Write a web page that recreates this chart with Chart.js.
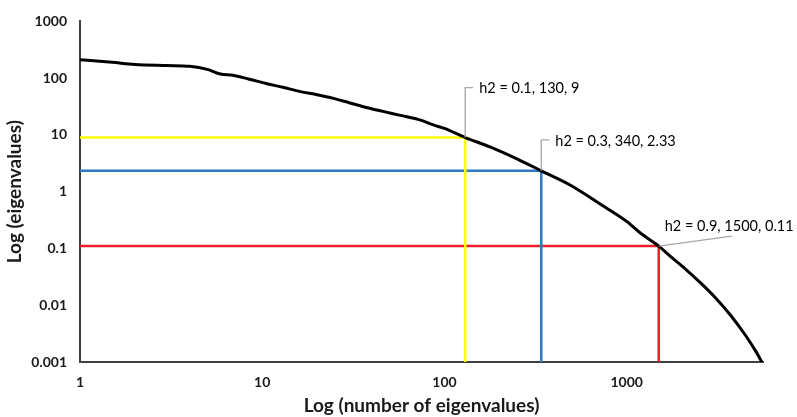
<!DOCTYPE html>
<html>
<head>
<meta charset="utf-8">
<script src="https://cdn.jsdelivr.net/npm/chart.js@4"></script>
<style>
  html, body { margin: 0; padding: 0; background: #fff; }
  #wrap { width: 797px; height: 417px; }
</style>
</head>
<body>
<div id="wrap"><canvas id="chart"></canvas></div>
<script>
// eigenvalue spectrum
const numEigen = [1, 1.5, 2, 3, 4, 5, 5.9, 6.9, 8.5, 10.6, 13, 16.2, 20, 24.6, 30, 37.8, 46, 57.3, 74, 87, 100,
  130, 179, 250, 340, 492, 719, 1000, 1194, 1500, 1745, 2110, 2553, 3086, 3727, 4506, 5117, 5520];
const eigenValues = [211, 190, 174, 167, 162, 143, 118, 113, 96, 80, 69, 58, 51, 44, 37, 30.2, 26, 22.1, 18.2, 15, 13,
  9, 6.1, 3.8, 2.33, 1.3, 0.6, 0.3, 0.185, 0.11, 0.0716, 0.0429, 0.0245, 0.0133, 0.0066, 0.0029, 0.00154, 0.001];

// cut-off points for each heritability
const h2Values = [0.1, 0.3, 0.9];
const cutN = [130, 340, 1500];
const cutEigen = [9, 2.33, 0.11];
const cutColors = ['#ffff00', '#2e7bc4', '#e8202a'];

const xTicks = [1, 10, 100, 1000];
const yTicks = [0.001, 0.01, 0.1, 1, 10, 100, 1000];

// leader line / label placement relative to the cut point (pixels)
const labelLayout = [
  { kind: 'elbow', up: 50, textDx: 14 },
  { kind: 'elbow', up: 31, textDx: 14 },
  { kind: 'slant', lineDx: 73, lineDy: -10, textDx: 6, textDy: -20 }
];

const FONT = 'Lato, "Open Sans", sans-serif';

const curve = numEigen.map((n, i) => ({ x: n, y: eigenValues[i] }));

const datasets = [{
  label: 'eigenvalues',
  data: curve,
  borderColor: '#000',
  borderWidth: 3,
  pointRadius: 0,
  cubicInterpolationMode: 'monotone'
}];
cutN.forEach((n, i) => {
  datasets.push({
    label: 'h2 = ' + h2Values[i],
    data: [{ x: xTicks[0], y: cutEigen[i] }, { x: n, y: cutEigen[i] }, { x: n, y: yTicks[0] }],
    borderColor: cutColors[i],
    borderWidth: 2.5,
    pointRadius: 0,
    tension: 0
  });
});

const cutLabels = {
  id: 'cutLabels',
  afterDatasetsDraw(chart) {
    const { ctx, scales: { x, y } } = chart;
    ctx.save();
    ctx.font = '14.5px ' + FONT;
    ctx.fillStyle = '#000';
    ctx.textBaseline = 'middle';
    ctx.strokeStyle = '#a6a6a6';
    ctx.lineWidth = 1.3;
    cutN.forEach((n, i) => {
      const px = x.getPixelForValue(n);
      const py = y.getPixelForValue(cutEigen[i]);
      const lay = labelLayout[i];
      const text = 'h2 = ' + h2Values[i] + ', ' + n + ', ' + cutEigen[i];
      ctx.beginPath();
      if (lay.kind === 'elbow') {
        ctx.moveTo(px, py);
        ctx.lineTo(px, py - lay.up);
        ctx.lineTo(px + 8, py - lay.up);
        ctx.stroke();
        ctx.fillText(text, px + lay.textDx, py - lay.up + 1);
      } else {
        ctx.moveTo(px, py);
        ctx.lineTo(px + lay.lineDx, py + lay.lineDy);
        ctx.stroke();
        ctx.fillText(text, px + lay.textDx, py + lay.textDy);
      }
    });
    ctx.restore();
  }
};

new Chart(document.getElementById('chart'), {
  type: 'line',
  data: { datasets },
  plugins: [cutLabels],
  options: {
    responsive: true,
    maintainAspectRatio: false,
    animation: false,
    layout: { padding: { top: 7, right: 34, left: 0, bottom: 0 } },
    plugins: { legend: { display: false }, tooltip: { enabled: false } },
    scales: {
      x: {
        type: 'logarithmic',
        min: 1,
        max: 5600,
        afterBuildTicks: s => { s.ticks = xTicks.map(v => ({ value: v })); },
        afterFit: s => { s.height = 55; },
        grid: { display: false, drawTicks: false },
        border: { color: '#404040', width: 2 },
        ticks: {
          callback: v => String(v),
          autoSkip: false,
          maxRotation: 0,
          padding: 12,
          color: '#1a1a1a',
          font: { family: FONT, size: 14, weight: 'bold' }
        },
        title: {
          display: true,
          text: 'Log (number of eigenvalues)',
          color: '#1a1a1a',
          padding: { top: 0, bottom: 0 },
          font: { family: FONT, size: 19, weight: 'bold' }
        }
      },
      y: {
        type: 'logarithmic',
        min: 0.001,
        max: 1000,
        afterBuildTicks: s => { s.ticks = yTicks.map(v => ({ value: v })); },
        afterFit: s => { s.width = 80; },
        grid: { display: false, drawTicks: false },
        border: { color: '#404040', width: 2 },
        ticks: {
          callback: v => String(v),
          autoSkip: false,
          padding: 13,
          color: '#1a1a1a',
          font: { family: FONT, size: 14, weight: 'bold' }
        },
        title: {
          display: true,
          text: 'Log (eigenvalues)',
          color: '#1a1a1a',
          padding: { top: 3, bottom: 0 },
          font: { family: FONT, size: 19, weight: 'bold' }
        }
      }
    }
  }
});
</script>
</body>
</html>
